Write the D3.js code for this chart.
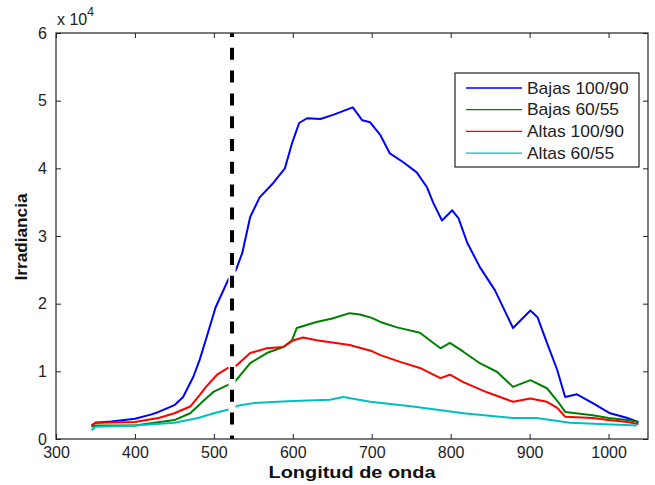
<!DOCTYPE html>
<html>
<head>
<meta charset="utf-8">
<script src="https://cdn.jsdelivr.net/npm/d3@7"></script>
<style>
  body { margin: 0; background: #fff; }
  text { font-family: "Liberation Sans", Arial, sans-serif; }
</style>
</head>
<body>
<div id="chart"></div>
<script>
// wavelength (nm) and irradiance (x1e4)
var bajas100wl = [345, 350, 370, 400, 420, 430, 450, 461, 474, 482, 491, 502, 518, 528, 536, 546, 558, 575, 590, 599, 608, 618, 635, 651, 676, 688, 698, 711, 723, 740, 757, 770, 778, 789, 802, 810, 821, 837, 856, 879, 901, 910, 922, 935, 945, 960, 980, 1002, 1024, 1038]
var bajas100 = [0.2, 0.24, 0.26, 0.3, 0.36, 0.4, 0.5, 0.62, 0.92, 1.17, 1.51, 1.94, 2.35, 2.5, 2.75, 3.28, 3.57, 3.78, 4.0, 4.37, 4.67, 4.74, 4.73, 4.79, 4.9, 4.71, 4.68, 4.49, 4.22, 4.09, 3.94, 3.72, 3.49, 3.23, 3.38, 3.26, 2.9, 2.54, 2.2, 1.64, 1.9, 1.8, 1.42, 1.02, 0.62, 0.66, 0.53, 0.38, 0.31, 0.25]

var bajas60wl = [345, 350, 400, 450, 470, 490, 500, 518, 527, 546, 567, 588, 599, 605, 630, 650, 672, 685, 700, 711, 732, 761, 787, 799, 816, 837, 859, 879, 901, 922, 936, 945, 980, 1000, 1024, 1038]
var bajas60 = [0.18, 0.2, 0.2, 0.28, 0.38, 0.6, 0.7, 0.8, 0.85, 1.12, 1.27, 1.36, 1.46, 1.64, 1.73, 1.78, 1.86, 1.84, 1.79, 1.73, 1.65, 1.57, 1.34, 1.42, 1.29, 1.12, 0.99, 0.77, 0.87, 0.75, 0.55, 0.4, 0.35, 0.31, 0.28, 0.25]

var altas100wl = [345, 350, 400, 430, 450, 470, 482, 490, 504, 518, 529, 546, 567, 588, 601, 613, 630, 672, 700, 711, 736, 761, 787, 799, 816, 846, 879, 901, 922, 935, 945, 980, 1000, 1024, 1038]
var altas100 = [0.2, 0.24, 0.25, 0.31, 0.38, 0.48, 0.65, 0.77, 0.95, 1.05, 1.09, 1.27, 1.34, 1.36, 1.46, 1.5, 1.46, 1.39, 1.3, 1.24, 1.14, 1.05, 0.9, 0.95, 0.84, 0.69, 0.55, 0.6, 0.55, 0.46, 0.33, 0.31, 0.28, 0.25, 0.22]

var altas60wl = [345, 350, 400, 450, 480, 500, 520, 530, 550, 600, 647, 664, 698, 752, 816, 879, 909, 951, 1036]
var altas60 = [0.13, 0.18, 0.2, 0.24, 0.31, 0.38, 0.44, 0.49, 0.53, 0.56, 0.58, 0.62, 0.55, 0.48, 0.38, 0.31, 0.31, 0.24, 0.2]

var seriesNames = ['Bajas 100/90', 'Bajas 60/55', 'Altas 100/90', 'Altas 60/55']
var xTicks = [300, 400, 500, 600, 700, 800, 900, 1000]
var yTicks = [0, 1, 2, 3, 4, 5, 6]
var markerWl = 523

var series = [
  {name: seriesNames[0], wl: bajas100wl, v: bajas100, color: '#0000ff'},
  {name: seriesNames[1], wl: bajas60wl, v: bajas60, color: '#008000'},
  {name: seriesNames[2], wl: altas100wl, v: altas100, color: '#ff0000'},
  {name: seriesNames[3], wl: altas60wl, v: altas60, color: '#00bfbf'}
]

var margin = {top: 33, right: 7, bottom: 46, left: 56}
var width = 655 - margin.left - margin.right,
    height = 485 - margin.top - margin.bottom

var svg = d3.select('#chart').append('svg')
  .attr('width', 655)
  .attr('height', 485)
  .append('g')
  .attr('transform', 'translate(' + margin.left + ',' + margin.top + ')')

var x = d3.scaleLinear().domain([300, 1050]).range([0, width])
var y = d3.scaleLinear().domain([0, 6]).range([height, 0])

var line = d3.line()
  .x(d => x(d[0]))
  .y(d => y(d[1]))

series.forEach(function (s) {
  svg.append('path')
    .datum(s.wl.map((w, i) => [w, s.v[i]]))
    .attr('fill', 'none')
    .attr('stroke', s.color)
    .attr('stroke-width', 2)
    .attr('stroke-linejoin', 'round')
    .attr('d', line)
})

// dashed marker line, white underneath
svg.append('line')
  .attr('x1', x(markerWl)).attr('x2', x(markerWl))
  .attr('y1', 0).attr('y2', height)
  .attr('stroke', '#fff').attr('stroke-width', 7)
svg.append('line')
  .attr('x1', x(markerWl)).attr('x2', x(markerWl))
  .attr('y1', 0).attr('y2', height)
  .attr('stroke', '#000').attr('stroke-width', 4)
  .attr('stroke-dasharray', '12,10.8')
  .attr('stroke-dashoffset', 8)

// axes, MATLAB style box with inward ticks
var tickStyle = function (g) {
  g.select('.domain').remove()
  g.selectAll('line').attr('stroke', '#222')
  g.selectAll('text').attr('fill', '#222').style('font-size', '16px')
}

svg.append('g')
  .attr('transform', 'translate(0,' + height + ')')
  .call(d3.axisBottom(x).tickValues(xTicks).tickSizeInner(-5).tickPadding(8).tickFormat(d3.format('d')))
  .call(tickStyle)
svg.append('g')
  .call(d3.axisTop(x).tickValues(xTicks).tickSizeInner(-5).tickFormat(''))
  .call(tickStyle)
svg.append('g')
  .call(d3.axisLeft(y).tickValues(yTicks).tickSizeInner(-5).tickPadding(9).tickFormat(d3.format('d')))
  .call(tickStyle)
svg.append('g')
  .attr('transform', 'translate(' + width + ',0)')
  .call(d3.axisRight(y).tickValues(yTicks).tickSizeInner(-5).tickFormat(''))
  .call(tickStyle)

svg.append('rect')
  .attr('width', width).attr('height', height)
  .attr('fill', 'none').attr('stroke', '#222').attr('stroke-width', 1.2)

// exponent label
var expo = svg.append('text')
  .attr('x', 1).attr('y', -8)
  .attr('fill', '#222')
  .style('font-size', '16px')
expo.append('tspan').text('x 10')
expo.append('tspan').attr('dy', -9).style('font-size', '12px').text('4')

// axis labels
svg.append('text')
  .attr('x', width / 2).attr('y', height + 39)
  .attr('text-anchor', 'middle')
  .attr('fill', '#111')
  .attr('textLength', 167).attr('lengthAdjust', 'spacingAndGlyphs')
  .style('font-size', '16px').style('font-weight', 'bold')
  .text('Longitud de onda')

svg.append('text')
  .attr('transform', 'translate(-29,' + (height / 2 + 1) + ') rotate(-90)')
  .attr('text-anchor', 'middle')
  .attr('fill', '#111')
  .attr('textLength', 87).attr('lengthAdjust', 'spacingAndGlyphs')
  .style('font-size', '16px').style('font-weight', 'bold')
  .text('Irradiancia')

// legend
var legend = svg.append('g')
  .attr('transform', 'translate(' + (455 - margin.left) + ',' + (73 - margin.top) + ')')
legend.append('rect')
  .attr('width', 184).attr('height', 94)
  .attr('fill', '#fff').attr('stroke', '#222').attr('stroke-width', 1.2)

var items = legend.selectAll('.item')
  .data(series)
  .enter().append('g')
  .attr('transform', (d, i) => 'translate(0,' + (15 + i * 21.7) + ')')
items.append('line')
  .attr('x1', 11).attr('x2', 67)
  .attr('stroke', d => d.color).attr('stroke-width', 1.3)
items.append('text')
  .attr('transform', 'translate(72,0) scale(1.09,1)')
  .attr('dy', '0.36em')
  .attr('fill', '#222')
  .style('font-size', '16px')
  .text(d => d.name)
</script>
</body>
</html>
